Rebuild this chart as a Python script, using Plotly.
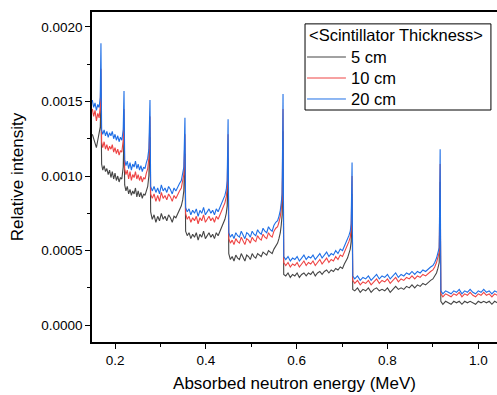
import plotly.graph_objects as go

# Absorbed neutron energy (MeV)
energy = [
    0.150, 0.153, 0.156, 0.159, 0.162, 0.165, 0.1675, 0.169,
    0.1705, 0.173, 0.176, 0.179, 0.182, 0.185, 0.188, 0.191, 0.194, 0.197, 0.200, 0.203, 0.206, 0.209, 0.212, 0.215, 0.218, 0.2198,
    0.2213, 0.224, 0.227, 0.230, 0.233, 0.236, 0.239, 0.242, 0.245, 0.248, 0.251, 0.254, 0.257, 0.260, 0.263, 0.266, 0.269, 0.272, 0.2745, 0.2770,
    0.2785, 0.282, 0.286, 0.290, 0.294, 0.298, 0.302, 0.306, 0.310, 0.314, 0.318, 0.322, 0.326, 0.330, 0.334, 0.338, 0.342, 0.346, 0.349, 0.3515, 0.3540,
    0.3555, 0.359, 0.363, 0.367, 0.371, 0.375, 0.379, 0.383, 0.387, 0.391, 0.395, 0.399, 0.403, 0.407, 0.411, 0.415, 0.419, 0.423, 0.427, 0.431, 0.435, 0.439, 0.442, 0.445, 0.447, 0.4490,
    0.4505, 0.454, 0.458, 0.462, 0.466, 0.470, 0.474, 0.478, 0.482, 0.486, 0.490, 0.494, 0.498, 0.502, 0.506, 0.510, 0.514, 0.518, 0.522, 0.526, 0.530, 0.534, 0.538, 0.542, 0.546, 0.550, 0.554, 0.558, 0.561, 0.564, 0.566, 0.568, 0.5700,
    0.5715, 0.576, 0.581, 0.586, 0.591, 0.596, 0.601, 0.606, 0.611, 0.616, 0.621, 0.626, 0.631, 0.636, 0.641, 0.646, 0.651, 0.656, 0.661, 0.666, 0.671, 0.676, 0.681, 0.686, 0.691, 0.696, 0.701, 0.705, 0.709, 0.712, 0.715, 0.718, 0.720, 0.7220,
    0.7235, 0.728, 0.734, 0.740, 0.746, 0.752, 0.758, 0.764, 0.770, 0.776, 0.782, 0.788, 0.794, 0.800, 0.806, 0.812, 0.818, 0.824, 0.830, 0.836, 0.842, 0.848, 0.854, 0.860, 0.866, 0.872, 0.878, 0.884, 0.890, 0.895, 0.900, 0.904, 0.908, 0.911, 0.914, 0.9160,
    0.9175, 0.922, 0.928, 0.934, 0.940, 0.946, 0.952, 0.958, 0.964, 0.970, 0.976, 0.982, 0.988, 0.994, 1.000, 1.006, 1.012, 1.018, 1.024, 1.030, 1.036, 1.042,
]

# Relative intensity, 20 cm scintillator
intensity_20cm = [
    0.00151, 0.00146, 0.00149, 0.00144, 0.00148, 0.00146, 0.00153, 0.00189,
    0.00131, 0.00128, 0.00131, 0.00127, 0.00130, 0.00126, 0.00129, 0.00127, 0.00130, 0.00125, 0.00128, 0.00124, 0.00127, 0.00123, 0.00126, 0.00124, 0.00131, 0.00157,
    0.00111, 0.00107, 0.00110, 0.00105, 0.00109, 0.00104, 0.00108, 0.00106, 0.00110, 0.00105, 0.00108, 0.00104, 0.00107, 0.00103, 0.00106, 0.00105, 0.00109, 0.00112, 0.00118, 0.00151,
    0.00093, 0.00090, 0.00093, 0.00089, 0.00092, 0.00088, 0.00094, 0.00090, 0.00092, 0.00089, 0.00093, 0.00091, 0.00088, 0.00092, 0.00090, 0.00093, 0.00095, 0.00097, 0.00101, 0.00106, 0.00139,
    0.00079, 0.00076, 0.00078, 0.00074, 0.00077, 0.00075, 0.00078, 0.00073, 0.00077, 0.00075, 0.00079, 0.00074, 0.00076, 0.00078, 0.00075, 0.00077, 0.00074, 0.00078, 0.00076, 0.00079, 0.00081, 0.00084, 0.00087, 0.00091, 0.00097, 0.00138,
    0.00062, 0.00059, 0.00061, 0.00058, 0.00062, 0.00060, 0.00059, 0.00063, 0.00060, 0.00058, 0.00062, 0.00061, 0.00059, 0.00063, 0.00061, 0.00060, 0.00064, 0.00062, 0.00061, 0.00065, 0.00063, 0.00062, 0.00066, 0.00064, 0.00063, 0.00067, 0.00069, 0.00070, 0.00073, 0.00077, 0.00082, 0.00088, 0.00155,
    0.00046, 0.00044, 0.00046, 0.00043, 0.00045, 0.00044, 0.00046, 0.00043, 0.00045, 0.00047, 0.00044, 0.00046, 0.00045, 0.00047, 0.00044, 0.00046, 0.00048, 0.00045, 0.00047, 0.00049, 0.00046, 0.00048, 0.00047, 0.00050, 0.00048, 0.00051, 0.00050, 0.00053, 0.00055, 0.00057, 0.00060, 0.00063, 0.00068, 0.00109,
    0.00033, 0.00031, 0.00033, 0.00030, 0.00032, 0.00031, 0.00033, 0.00030, 0.00032, 0.00034, 0.00031, 0.00033, 0.00032, 0.00034, 0.00031, 0.00033, 0.00035, 0.00032, 0.00034, 0.00033, 0.00035, 0.00034, 0.00036, 0.00034, 0.00036, 0.00035, 0.00037, 0.00036, 0.00038, 0.00039, 0.00040, 0.00042, 0.00045, 0.00048, 0.00052, 0.00118,
    0.00023, 0.00021, 0.00023, 0.00022, 0.00021, 0.00023, 0.00022, 0.00024, 0.00021, 0.00023, 0.00022, 0.00024, 0.00022, 0.00021, 0.00023, 0.00022, 0.00024, 0.00022, 0.00023, 0.00021, 0.00023, 0.00022,
]

# Relative intensity, 10 cm scintillator
intensity_10cm = [
    0.00145, 0.00140, 0.00144, 0.00137, 0.00142, 0.00139, 0.00147, 0.00172,
    0.00123, 0.00119, 0.00123, 0.00118, 0.00121, 0.00117, 0.00120, 0.00118, 0.00121, 0.00116, 0.00119, 0.00115, 0.00118, 0.00114, 0.00117, 0.00116, 0.00124, 0.00145,
    0.00105, 0.00101, 0.00104, 0.00098, 0.00103, 0.00097, 0.00101, 0.00099, 0.00103, 0.00098, 0.00101, 0.00097, 0.00100, 0.00096, 0.00099, 0.00098, 0.00102, 0.00105, 0.00112, 0.00140,
    0.00088, 0.00085, 0.00088, 0.00083, 0.00087, 0.00083, 0.00089, 0.00085, 0.00087, 0.00084, 0.00088, 0.00086, 0.00083, 0.00087, 0.00085, 0.00088, 0.00090, 0.00092, 0.00096, 0.00101, 0.00128,
    0.00075, 0.00071, 0.00073, 0.00069, 0.00072, 0.00070, 0.00073, 0.00068, 0.00072, 0.00070, 0.00074, 0.00069, 0.00071, 0.00073, 0.00070, 0.00072, 0.00069, 0.00073, 0.00071, 0.00074, 0.00076, 0.00079, 0.00082, 0.00086, 0.00092, 0.00128,
    0.00058, 0.00055, 0.00057, 0.00054, 0.00058, 0.00056, 0.00055, 0.00059, 0.00056, 0.00054, 0.00058, 0.00057, 0.00055, 0.00059, 0.00057, 0.00056, 0.00060, 0.00058, 0.00057, 0.00061, 0.00059, 0.00058, 0.00062, 0.00060, 0.00059, 0.00063, 0.00065, 0.00066, 0.00069, 0.00073, 0.00078, 0.00084, 0.00145,
    0.00042, 0.00040, 0.00042, 0.00039, 0.00041, 0.00040, 0.00042, 0.00039, 0.00041, 0.00043, 0.00040, 0.00042, 0.00041, 0.00043, 0.00040, 0.00042, 0.00044, 0.00041, 0.00043, 0.00045, 0.00042, 0.00044, 0.00043, 0.00046, 0.00044, 0.00047, 0.00046, 0.00049, 0.00051, 0.00053, 0.00056, 0.00059, 0.00064, 0.00100,
    0.00030, 0.00028, 0.00030, 0.00027, 0.00029, 0.00028, 0.00030, 0.00027, 0.00029, 0.00031, 0.00028, 0.00030, 0.00029, 0.00031, 0.00028, 0.00030, 0.00032, 0.00029, 0.00031, 0.00030, 0.00032, 0.00031, 0.00033, 0.00031, 0.00033, 0.00032, 0.00034, 0.00033, 0.00035, 0.00036, 0.00037, 0.00039, 0.00042, 0.00045, 0.00049, 0.00108,
    0.00021, 0.00019, 0.00021, 0.00020, 0.00019, 0.00021, 0.00020, 0.00022, 0.00019, 0.00021, 0.00020, 0.00022, 0.00020, 0.00019, 0.00021, 0.00020, 0.00022, 0.00020, 0.00021, 0.00019, 0.00021, 0.00020,
]

# Relative intensity, 5 cm scintillator
intensity_5cm = [
    0.00128, 0.00125, 0.00122, 0.00119, 0.00124, 0.00129, 0.00133, 0.00150,
    0.00108, 0.00104, 0.00107, 0.00103, 0.00105, 0.00101, 0.00104, 0.00099, 0.00103, 0.00098, 0.00102, 0.00097, 0.00100, 0.00096, 0.00099, 0.00098, 0.00106, 0.00128,
    0.00094, 0.00090, 0.00093, 0.00088, 0.00091, 0.00087, 0.00090, 0.00088, 0.00092, 0.00086, 0.00090, 0.00086, 0.00089, 0.00085, 0.00088, 0.00087, 0.00090, 0.00093, 0.00100, 0.00126,
    0.00076, 0.00071, 0.00074, 0.00069, 0.00073, 0.00070, 0.00075, 0.00071, 0.00073, 0.00070, 0.00074, 0.00072, 0.00069, 0.00073, 0.00072, 0.00075, 0.00077, 0.00080, 0.00084, 0.00090, 0.00115,
    0.00063, 0.00060, 0.00062, 0.00058, 0.00061, 0.00059, 0.00062, 0.00057, 0.00061, 0.00059, 0.00063, 0.00058, 0.00060, 0.00062, 0.00059, 0.00061, 0.00058, 0.00062, 0.00060, 0.00063, 0.00065, 0.00068, 0.00071, 0.00075, 0.00080, 0.00112,
    0.00048, 0.00044, 0.00046, 0.00043, 0.00047, 0.00045, 0.00044, 0.00048, 0.00045, 0.00043, 0.00047, 0.00046, 0.00044, 0.00048, 0.00046, 0.00045, 0.00048, 0.00047, 0.00046, 0.00049, 0.00048, 0.00047, 0.00050, 0.00049, 0.00048, 0.00051, 0.00053, 0.00055, 0.00058, 0.00062, 0.00067, 0.00074, 0.00130,
    0.00034, 0.00033, 0.00035, 0.00032, 0.00034, 0.00033, 0.00035, 0.00032, 0.00034, 0.00035, 0.00033, 0.00035, 0.00034, 0.00036, 0.00033, 0.00035, 0.00036, 0.00034, 0.00036, 0.00037, 0.00035, 0.00037, 0.00036, 0.00038, 0.00037, 0.00039, 0.00038, 0.00041, 0.00043, 0.00045, 0.00048, 0.00051, 0.00056, 0.00088,
    0.00024, 0.00023, 0.00025, 0.00022, 0.00024, 0.00023, 0.00025, 0.00022, 0.00024, 0.00025, 0.00023, 0.00024, 0.00023, 0.00025, 0.00022, 0.00024, 0.00026, 0.00024, 0.00025, 0.00024, 0.00026, 0.00025, 0.00027, 0.00025, 0.00027, 0.00026, 0.00028, 0.00027, 0.00029, 0.00030, 0.00031, 0.00033, 0.00035, 0.00038, 0.00042, 0.00096,
    0.00016, 0.00014, 0.00016, 0.00015, 0.00014, 0.00016, 0.00015, 0.00016, 0.00014, 0.00016, 0.00015, 0.00016, 0.00015, 0.00014, 0.00016, 0.00015, 0.00016, 0.00015, 0.00016, 0.00014, 0.00016, 0.00015,
]

series_names = ["5 cm", "10 cm", "20 cm"]
series_colors = ["#454545", "#ee4444", "#1f6fe6"]
legend_title = "<Scintillator Thickness>"

assert len(energy) == len(intensity_5cm) == len(intensity_10cm) == len(intensity_20cm)

FONT = "Liberation Sans, Arial, sans-serif"

fig = go.Figure()
for name, color, ys in zip(series_names, series_colors,
                           [intensity_5cm, intensity_10cm, intensity_20cm]):
    fig.add_trace(go.Scatter(
        x=energy, y=ys, mode="lines", name=name,
        line=dict(color=color, width=1.1), showlegend=False,
    ))

# Legend drawn as a boxed key (paper coordinates of the plot area)
L_X0, L_X1, L_Y0, L_Y1 = 0.526, 0.985, 0.703, 0.964
row_y = [0.8636, 0.8000, 0.7364]
shapes = [dict(type="rect", xref="paper", yref="paper", x0=L_X0, x1=L_X1, y0=L_Y0, y1=L_Y1,
               line=dict(color="black", width=1), fillcolor="white", layer="above")]
annotations = [dict(xref="paper", yref="paper", x=0.530, y=0.931, xanchor="left", yanchor="middle",
                    text=legend_title.replace("<", "&lt;").replace(">", "&gt;"), showarrow=False,
                    font=dict(family=FONT, size=16.5, color="black"))]
for name, color, ry in zip(series_names, series_colors, row_y):
    shapes.append(dict(type="line", xref="paper", yref="paper", x0=0.531, x1=0.627, y0=ry, y1=ry,
                       line=dict(color=color, width=1), layer="above"))
    annotations.append(dict(xref="paper", yref="paper", x=0.634, y=ry, xanchor="left", yanchor="middle",
                            text=name, showarrow=False,
                            font=dict(family=FONT, size=16.5, color="black")))

fig.update_layout(
    width=497, height=395,
    margin=dict(l=92, r=0, t=12, b=53),
    paper_bgcolor="white", plot_bgcolor="white",
    font=dict(family=FONT, size=14, color="black"),
    showlegend=False,
    shapes=shapes,
    annotations=annotations,
    xaxis=dict(
        range=[0.1493, 1.0412],
        tickvals=[0.2, 0.4, 0.6, 0.8, 1.0],
        ticktext=["0.2", "0.4", "0.6", "0.8", "1.0"],
        ticks="outside", ticklen=5, tickwidth=1, tickcolor="black",
        minor=dict(tickvals=[0.3, 0.5, 0.7, 0.9], ticks="outside", ticklen=3, tickcolor="black"),
        showline=True, linecolor="black", linewidth=1.5, mirror=True,
        showgrid=False, zeroline=False,
        tickfont=dict(family=FONT, size=13.5, color="black"),
        title=dict(text="Absorbed neutron energy (MeV)", standoff=10,
                   font=dict(family=FONT, size=17, color="black")),
    ),
    yaxis=dict(
        range=[-0.000113, 0.0021],
        tickvals=[0.0, 0.0005, 0.0010, 0.0015, 0.0020],
        ticktext=["0.0000", "0.0005", "0.0010", "0.0015", "0.0020"],
        ticks="outside", ticklen=5, tickwidth=1, tickcolor="black",
        minor=dict(tickvals=[0.00025, 0.00075, 0.00125, 0.00175], ticks="outside", ticklen=3, tickcolor="black"),
        showline=True, linecolor="black", linewidth=1.5, mirror=False,
        showgrid=False, zeroline=False,
        tickfont=dict(family=FONT, size=13.5, color="black"),
        title=dict(text="Relative intensity", standoff=13,
                   font=dict(family=FONT, size=17, color="black")),
    ),
)

fig.write_html("out.html")
